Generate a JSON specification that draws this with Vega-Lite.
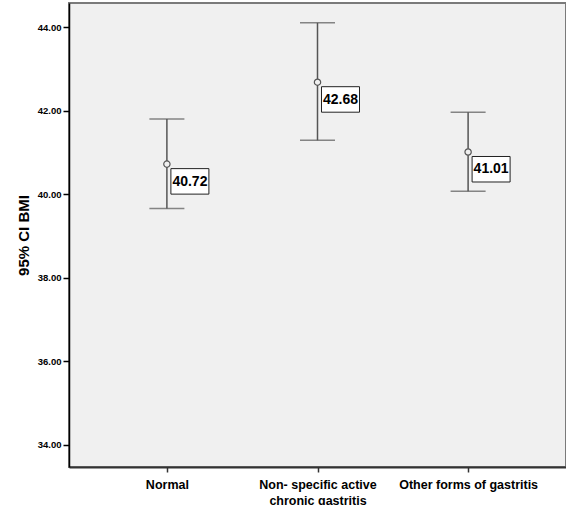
{
  "$schema": "https://vega.github.io/schema/vega-lite/v6.json",
  "width": 497,
  "height": 464,
  "autosize": {"type": "none"},
  "padding": {"left": 69, "top": 3, "right": 0, "bottom": 38},
  "background": "#ffffff",
  "config": {
    "view": {"fill": "#f0f0f0", "stroke": "#7a7a7a", "strokeWidth": 2}
  },
  "data": {
    "values": [
      {"group": "Normal", "mean": 40.72, "lower": 39.66, "upper": 41.80},
      {"group": "Non- specific active|chronic gastritis", "mean": 42.68, "lower": 41.29, "upper": 44.10},
      {"group": "Other forms of gastritis", "mean": 41.01, "lower": 40.07, "upper": 41.96}
    ]
  },
  "encoding": {
    "x": {
      "field": "group",
      "type": "nominal",
      "sort": null,
      "scale": {"type": "point", "padding": 0.65},
      "axis": {
        "title": null,
        "labelAngle": 0,
        "labelExpr": "split(datum.label, '|')",
        "labelFont": "Liberation Sans",
        "labelFontWeight": "bold",
        "labelFontSize": 12.5,
        "labelLineHeight": 16,
        "labelColor": "#000000",
        "labelPadding": 6,
        "domainColor": "#333333",
        "domainWidth": 2,
        "tickColor": "#333333",
        "tickWidth": 1.5,
        "tickSize": 5,
        "grid": false
      }
    }
  },
  "layer": [
    {
      "mark": {"type": "rule", "color": "#555555", "strokeWidth": 1.5},
      "encoding": {
        "y": {
          "field": "lower",
          "type": "quantitative",
          "scale": {"domain": [33.473, 44.575], "nice": false, "zero": false},
          "axis": {
            "title": "95% CI BMI",
            "titleFont": "Liberation Sans",
            "titleFontWeight": "bold",
            "titleFontSize": 15,
            "titleColor": "#000000",
            "titlePadding": 6,
            "values": [34, 36, 38, 40, 42, 44],
            "format": ".2f",
            "labelFont": "Liberation Sans",
            "labelFontWeight": "bold",
            "labelFontSize": 9.5,
            "labelColor": "#000000",
            "labelPadding": 2,
            "domainColor": "#000000",
            "domainWidth": 1.5,
            "tickColor": "#000000",
            "tickWidth": 1.5,
            "tickSize": 6,
            "grid": false
          }
        },
        "y2": {"field": "upper"}
      }
    },
    {
      "mark": {"type": "tick", "color": "#555555", "size": 35, "thickness": 1.5, "orient": "horizontal"},
      "encoding": {"y": {"field": "lower", "type": "quantitative"}}
    },
    {
      "mark": {"type": "tick", "color": "#555555", "size": 35, "thickness": 1.5, "orient": "horizontal"},
      "encoding": {"y": {"field": "upper", "type": "quantitative"}}
    },
    {
      "mark": {"type": "point", "shape": "circle", "size": 40, "filled": false, "fill": "#f0f0f0", "stroke": "#555555", "strokeWidth": 1.2, "opacity": 1},
      "encoding": {"y": {"field": "mean", "type": "quantitative"}}
    },
    {
      "mark": {"type": "point", "shape": "M0.4,0.45H4.2V3H0.4Z", "size": 400, "filled": true, "fill": "#ffffff", "stroke": "#222222", "strokeWidth": 1, "opacity": 1},
      "encoding": {"y": {"field": "mean", "type": "quantitative"}}
    },
    {
      "mark": {"type": "text", "dx": 23, "dy": 17.5, "align": "center", "baseline": "middle", "font": "Liberation Sans", "fontWeight": "bold", "fontSize": 14, "color": "#000000"},
      "encoding": {
        "y": {"field": "mean", "type": "quantitative"},
        "text": {"field": "mean", "type": "quantitative", "format": ".2f"}
      }
    }
  ]
}
